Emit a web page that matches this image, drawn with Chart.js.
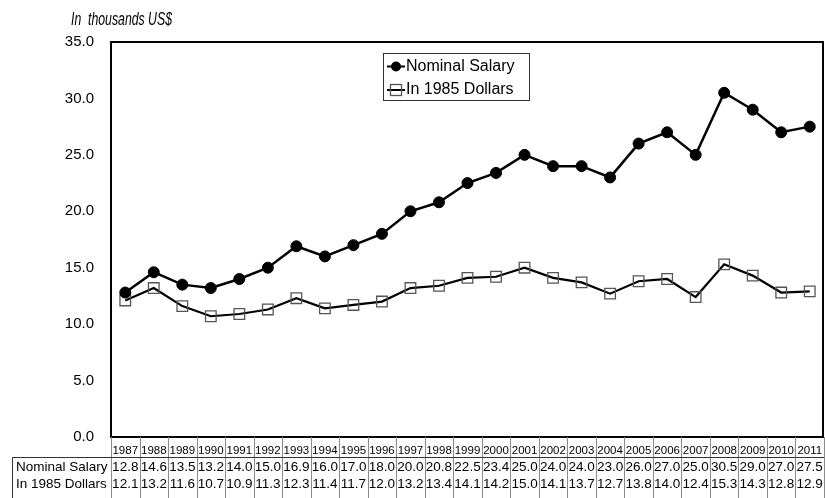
<!DOCTYPE html>
<html>
<head>
<meta charset="utf-8">
<script src="https://cdn.jsdelivr.net/npm/chart.js@4/dist/chart.umd.min.js"></script>
<style>
  html, body { margin: 0; padding: 0; background: #fff; }
  #wrap { width: 825px; height: 498px; position: relative; }
</style>
</head>
<body>
<div id="wrap"><canvas id="c" width="825" height="498"></canvas></div>
<script>
// Average salary, in thousands of US dollars
const years = ['1987','1988','1989','1990','1991','1992','1993','1994','1995','1996','1997','1998','1999',
               '2000','2001','2002','2003','2004','2005','2006','2007','2008','2009','2010','2011'];
const nominalSalary = [12.8,14.6,13.5,13.2,14.0,15.0,16.9,16.0,17.0,18.0,20.0,20.8,22.5,
                       23.4,25.0,24.0,24.0,23.0,26.0,27.0,25.0,30.5,29.0,27.0,27.5];
const in1985Dollars = [12.1,13.2,11.6,10.7,10.9,11.3,12.3,11.4,11.7,12.0,13.2,13.4,14.1,
                       14.2,15.0,14.1,13.7,12.7,13.8,14.0,12.4,15.3,14.3,12.8,12.9];
const seriesNames = ['Nominal Salary', 'In 1985 Dollars'];
const subtitle = 'In  thousands US$';
const yMin = 0, yMax = 35, yStep = 5;

const FONT = '"Liberation Sans", Arial, sans-serif';
const NARROW = '"Liberation Sans Narrow", "Arial Narrow", "Liberation Sans", sans-serif';

// Frame around the plot area
const framePlugin = {
  id: 'frame',
  beforeDatasetsDraw(chart) {
    const { ctx, chartArea: a } = chart;
    ctx.save();
    ctx.strokeStyle = '#000';
    ctx.lineWidth = 2;
    ctx.beginPath();
    ctx.moveTo(a.left, a.bottom);
    ctx.lineTo(a.left, a.top);
    ctx.lineTo(a.right - 1, a.top);
    ctx.lineTo(a.right - 1, a.bottom);
    ctx.closePath();
    ctx.stroke();
    ctx.restore();
  }
};

// Data table under the plot, subtitle and legend box
const tablePlugin = {
  id: 'dataTable',
  afterDraw(chart) {
    const { ctx, chartArea: a } = chart;
    const xs = chart.scales.x;
    const n = years.length;
    const colW = (a.right - a.left) / n;
    const H = chart.height;
    const rowLineY = 457.5;
    const yearY = 451, row1Y = 467, row2Y = 484;

    ctx.save();
    // vertical cell lines
    ctx.strokeStyle = '#8a8a8a';
    ctx.lineWidth = 1;
    for (let i = 0; i <= n; i++) {
      const x = Math.round(a.left + i * colW) + 0.5;
      ctx.beginPath();
      ctx.moveTo(x, a.bottom);
      ctx.lineTo(x, H);
      ctx.stroke();
    }
    // row header box
    ctx.strokeStyle = '#333';
    ctx.beginPath();
    ctx.moveTo(12.5, H);
    ctx.lineTo(12.5, rowLineY);
    ctx.lineTo(a.right, rowLineY);
    ctx.stroke();

    // years
    ctx.fillStyle = '#000';
    ctx.textAlign = 'center';
    ctx.textBaseline = 'middle';
    ctx.font = '11.5px ' + FONT;
    years.forEach((y, i) => ctx.fillText(y, xs.getPixelForValue(i), yearY));

    // values
    ctx.font = '13.5px ' + FONT;
    nominalSalary.forEach((v, i) => ctx.fillText(v.toFixed(1), xs.getPixelForValue(i), row1Y));
    in1985Dollars.forEach((v, i) => ctx.fillText(v.toFixed(1), xs.getPixelForValue(i), row2Y));

    // row labels
    ctx.textAlign = 'left';
    ctx.fillText(seriesNames[0], 16, row1Y);
    ctx.fillText(seriesNames[1], 16, row2Y);

    // subtitle (condensed italic)
    ctx.font = 'italic 18px ' + NARROW;
    const sw = ctx.measureText(subtitle).width;
    ctx.save();
    ctx.translate(71, 20);
    ctx.scale(101 / sw, 1);
    ctx.fillText(subtitle, 0, 0);
    ctx.restore();

    // legend
    const lx = 383.5, ly = 53.5, lw = 146, lh = 47;
    ctx.fillStyle = '#fff';
    ctx.fillRect(lx, ly, lw, lh);
    ctx.strokeStyle = '#333';
    ctx.lineWidth = 1;
    ctx.strokeRect(lx, ly, lw, lh);

    const e1 = 66.5, e2 = 90;
    ctx.strokeStyle = '#000';
    ctx.lineWidth = 2;
    ctx.beginPath(); ctx.moveTo(387, e1); ctx.lineTo(405, e1); ctx.stroke();
    ctx.beginPath(); ctx.arc(396, e1, 5, 0, Math.PI * 2); ctx.fillStyle = '#000'; ctx.fill();
    ctx.beginPath(); ctx.moveTo(387, e2); ctx.lineTo(405, e2); ctx.stroke();
    ctx.lineWidth = 1.3;
    ctx.strokeStyle = '#555';
    ctx.strokeRect(390.5, e2 - 5.5, 11, 11);

    ctx.fillStyle = '#000';
    ctx.font = '16px ' + FONT;
    ctx.textAlign = 'left';
    ctx.fillText(seriesNames[0], 406, e1);
    ctx.fillText(seriesNames[1], 406, e2);
    ctx.restore();
  }
};

new Chart(document.getElementById('c'), {
  type: 'line',
  data: {
    labels: years,
    datasets: [
      {
        label: seriesNames[0],
        data: nominalSalary,
        borderColor: '#000',
        borderWidth: 2.5,
        pointStyle: 'circle',
        pointRadius: 5.5,
        pointBackgroundColor: '#000',
        pointBorderColor: '#000',
        pointBorderWidth: 1,
        tension: 0
      },
      {
        label: seriesNames[1],
        data: in1985Dollars,
        borderColor: '#000',
        borderWidth: 2.2,
        pointStyle: 'rect',
        pointRadius: 7.5,
        pointBackgroundColor: 'rgba(255,255,255,0)',
        pointBorderColor: '#555',
        pointBorderWidth: 1.3,
        tension: 0
      }
    ]
  },
  options: {
    responsive: false,
    animation: false,
    devicePixelRatio: 1,
    layout: { autoPadding: false, padding: { top: 42, bottom: 61, left: 0, right: 1 } },
    plugins: { legend: { display: false }, tooltip: { enabled: false }, title: { display: false } },
    scales: {
      x: { type: 'category', offset: true, display: false },
      y: {
        min: yMin, max: yMax,
        grid: { display: false, drawTicks: false },
        border: { display: false },
        ticks: {
          stepSize: yStep,
          padding: 17,
          color: '#000',
          font: { family: FONT, size: 15 },
          callback: v => Number(v).toFixed(1)
        },
        afterFit(scale) { scale.width = 111; }
      }
    }
  },
  plugins: [framePlugin, tablePlugin]
});
</script>
</body>
</html>
